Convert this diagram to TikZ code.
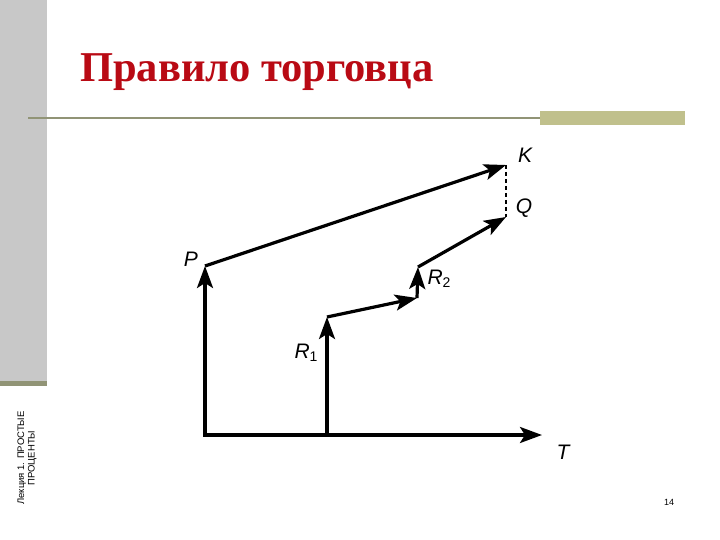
\documentclass[tikz,border=0pt]{standalone}
\usepackage{fontspec}
\setmainfont{Liberation Serif}
\newfontfamily\lsans{Liberation Sans}
\usetikzlibrary{arrows.meta}
\definecolor{bargrey}{RGB}{200,200,200}
\definecolor{olivel}{RGB}{145,148,118}
\definecolor{oliver}{RGB}{192,192,140}
\definecolor{titlered}{RGB}{185,10,20}
\tikzset{
  vec/.style={line width=3.2pt,-{Stealth[length=22pt,width=16pt,inset=5pt]}},
  seg/.style={line width=3.2pt},
  lbl/.style={font=\lsans\itshape\fontsize{21}{21}\selectfont,inner sep=0pt}
}
\begin{document}
\begin{tikzpicture}[x=1pt,y=-1pt]
\useasboundingbox (0,0) rectangle (720,540);
\fill[white] (0,0) rectangle (720,540);
% slide decorations
\fill[bargrey] (0,0) rectangle (47,381);
\fill[olivel] (0,381) rectangle (47,386);
\draw[olivel,line width=2.5pt] (28,118) -- (540,118);
\fill[oliver] (540,111) rectangle (685,125);
\node[anchor=base west,inner sep=0pt,text=titlered,font=\bfseries\fontsize{42.5}{42.5}\selectfont] (title) at (80,82) {Правило торговца};
\node[rotate=90,inner sep=0pt,align=center,font=\lsans\fontsize{9.5}{10.5}\selectfont] (side) at (27,458) {Лекция 1. ПРОСТЫЕ\\ПРОЦЕНТЫ};
\node[inner sep=0pt,font=\lsans\fontsize{9}{10}\selectfont] (pnum) at (669,502) {14};
% diagram points
\coordinate (O) at (205,435);
\coordinate (B) at (327,435);
\coordinate (Tend) at (542,435);
\coordinate (P) at (205,266);
\coordinate (K) at (506,165);
\coordinate (Q) at (506,217);
\coordinate (R1) at (327,317);
\coordinate (R2a) at (417,298);
\coordinate (R2) at (418,267);
% connectors
\draw[seg,line cap=rect] (O) -- (B);
\draw[vec] (O) -- (P);
\draw[vec] (P) -- (K);
\draw[vec] (B) -- (R1);
\draw[vec] (R1) -- (R2a);
\draw[vec] (R2a) -- (R2);
\draw[vec] (R2) -- (Q);
\draw[vec] (B) -- (Tend);
\draw[line width=1.6pt,dash pattern=on 4pt off 3pt] (K) -- (Q);
% labels
\node[lbl] (lP) at (191,259) {P};
\node[lbl] (lK) at (525,155) {K};
\node[lbl] (lQ) at (524,208) {Q};
\node[lbl] (lR2) at (439,279) {R\raisebox{-3pt}{\upshape\fontsize{14}{14}\selectfont 2}};
\node[lbl] (lR1) at (306,353) {R\raisebox{-3pt}{\upshape\fontsize{14}{14}\selectfont 1}};
\node[lbl] (lT) at (563,452) {T};
\end{tikzpicture}
\end{document}
